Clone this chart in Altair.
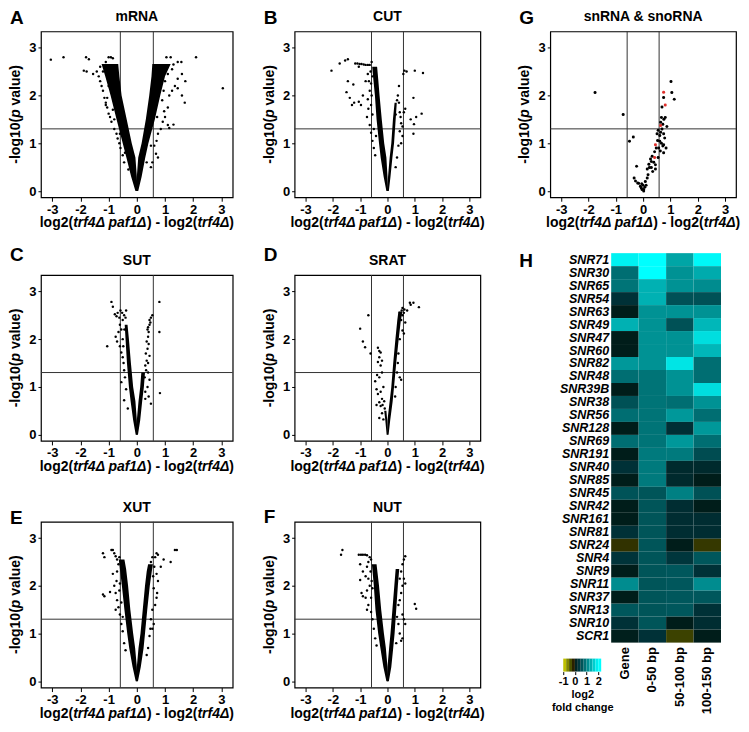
import altair as alt
import pandas as pd

FONT = "Liberation Sans"

XTICKS = [-3, -2, -1, 0, 1, 2, 3]
YTICKS = [0, 1, 2, 3]
FC_CUT = [-0.585, 0.585]
P_CUT = [1.301]
XSEG = [("log2(", False), ("trf4Δ paf1Δ", True), (") - log2(", False), ("trf4Δ", True), (")", False)]
YSEG = [("-log10(", False), ("p", True), (" ", False), ("value)", False)]

# dense cores of each volcano arm: (y, x_from, x_to)
A_LEFT = [(0.0, -0.05, 0.02), (0.3, -0.2, 0.0), (0.7, -0.37, -0.05), (1.0, -0.5, -0.18), (1.5, -0.72, -0.36), (2.0, -0.93, -0.54), (2.4, -1.12, -0.62), (2.66, -1.25, -0.66)]
A_RIGHT = [(0.0, -0.02, 0.05), (0.3, 0.0, 0.17), (0.7, 0.05, 0.3), (1.0, 0.17, 0.41), (1.5, 0.32, 0.64), (2.0, 0.44, 0.83), (2.4, 0.52, 1.0), (2.66, 0.55, 1.2)]
A_PTS = [(-3.05, 2.75), (-2.6, 2.8), (-1.8, 2.8), (-1.7, 2.76), (-1.78, 2.5), (-1.88, 2.52), (-1.55, 2.45), (-1.42, 2.5), (-1.35, 2.4), (-1.3, 2.3), (-1.25, 2.2), (-1.2, 2.1), (-1.15, 1.95), (-1.1, 1.85), (-1.05, 1.75), (-1.0, 1.62), (-0.95, 1.55), (-0.9, 1.45), (-1.0, 2.8), (-0.92, 2.8), (-0.85, 2.78), (-1.1, 2.7), (-0.8, 1.3), (-0.72, 1.2), (-0.68, 1.1), (-0.62, 1.0), (-0.58, 0.9), (-0.5, 0.75), (-0.45, 0.6), (-1.1, 1.8), (-1.05, 1.95), (-0.85, 1.7), (-1.3, 2.6), (-1.2, 2.5), (-1.0, 2.2), (-0.8, 1.5), (-0.6, 1.2), (-0.42, 0.8), (-0.3, 0.45),
         (3.05, 2.15), (2.1, 2.8), (1.58, 2.7), (1.45, 2.7), (1.3, 2.65), (1.2, 2.8), (1.05, 2.8), (1.6, 2.45), (1.72, 2.3), (1.45, 2.35), (1.35, 2.2), (1.45, 2.15), (1.25, 2.1), (1.15, 2.0), (1.7, 1.85), (1.6, 2.0), (0.97, 1.67), (1.1, 1.75), (1.0, 1.55), (0.92, 1.45), (1.1, 1.38), (1.3, 1.39), (1.15, 1.32), (0.85, 1.3), (0.75, 1.2), (0.7, 1.05), (0.62, 0.95), (0.68, 0.78), (0.75, 0.7), (0.55, 0.6), (0.5, 0.5), (0.9, 1.9), (0.95, 2.1), (1.0, 2.3), (1.1, 2.45), (0.9, 2.55), (1.25, 2.55), (0.72, 1.55), (0.5, 0.95), (0.35, 0.6)]

B_LEFT = [(0.0, -0.04, 0.02), (0.3, -0.14, 0.0), (0.7, -0.25, -0.04), (1.0, -0.31, -0.12), (1.5, -0.4, -0.21), (2.0, -0.46, -0.29), (2.35, -0.52, -0.34), (2.6, -0.56, -0.38)]
B_RIGHT = [(0.0, -0.01, 0.05), (0.3, 0.02, 0.11), (0.7, 0.08, 0.18), (1.0, 0.14, 0.24), (1.5, 0.2, 0.3), (1.85, 0.26, 0.34)]
B_PTS = [(-2.05, 2.52), (-1.75, 2.67), (-1.55, 2.73), (-1.45, 2.76), (-1.45, 2.3), (-1.5, 2.07), (-1.25, 2.23), (-1.18, 2.67), (-1.1, 2.67), (-1.02, 2.66), (-0.95, 2.66), (-0.87, 2.65), (-0.8, 2.64), (-0.72, 2.64), (-0.65, 2.64), (-1.05, 2.6), (-1.22, 1.85), (-1.3, 1.8), (-1.05, 1.87), (-0.97, 1.8), (-0.9, 2.0), (-0.8, 2.3), (-0.72, 2.45), (-1.38, 1.95), (-0.75, 1.55), (-0.7, 1.72), (-0.65, 1.38), (-0.6, 1.22), (-0.55, 1.05), (-0.5, 0.9), (-0.45, 0.75), (-0.65, 2.1), (-0.72, 1.92), (-0.6, 1.8), (-0.58, 2.0), (-0.6, 2.25), (-0.55, 1.6), (-0.5, 1.3), (-0.42, 1.15), (-0.62, 2.5), (-0.55, 2.4), (-0.68, 2.3), (-0.58, 2.7),
         (0.62, 2.52), (0.58, 2.45), (0.7, 2.5), (1.0, 2.52), (1.3, 2.47), (0.95, 1.95), (1.25, 1.62), (1.05, 1.55), (0.85, 1.5), (0.97, 1.4), (0.95, 1.2), (0.65, 1.72), (0.6, 1.65), (0.5, 1.42), (0.45, 1.25), (0.45, 1.65), (0.42, 1.85), (0.38, 2.0), (0.42, 2.2), (0.55, 1.35), (0.5, 1.0), (0.4, 0.95), (0.35, 0.7), (0.3, 0.5), (0.48, 1.55), (0.55, 1.15), (0.35, 1.9), (0.3, 1.6)]

C_LEFT = [(0.0, -0.04, 0.02), (0.3, -0.13, 0.0), (0.7, -0.22, -0.05), (1.0, -0.28, -0.13), (1.5, -0.35, -0.21), (2.0, -0.4, -0.28), (2.3, -0.43, -0.33)]
C_RIGHT = [(0.0, -0.02, 0.04), (0.3, 0.0, 0.12), (0.7, 0.06, 0.19), (1.0, 0.12, 0.25), (1.3, 0.16, 0.29)]
C_PTS = [(-0.9, 2.78), (-0.85, 2.68), (-0.78, 2.52), (-0.72, 2.48), (-0.68, 2.55), (-0.62, 2.45), (-0.58, 2.6), (-0.52, 2.55), (-0.5, 2.4), (-0.6, 2.3), (-0.55, 2.2), (-0.65, 2.15), (-0.75, 2.05), (-1.05, 1.85), (-0.7, 1.95), (-0.6, 1.85), (-0.55, 1.72), (-0.5, 1.62), (-0.47, 1.5), (-0.45, 1.35), (-0.42, 1.2), (-0.38, 0.95), (-0.55, 1.1), (-0.45, 0.72), (-0.32, 0.55), (-0.5, 2.0), (-0.48, 1.85), (-0.45, 2.5), (-0.4, 2.45), (-0.38, 2.6), (-0.44, 2.2),
         (0.3, 1.45), (0.35, 1.55), (0.32, 1.7), (0.38, 1.8), (0.35, 1.95), (0.4, 2.05), (0.42, 2.15), (0.4, 2.25), (0.45, 2.3), (0.48, 2.35), (0.5, 2.45), (0.55, 2.5), (0.45, 2.4), (0.38, 2.2), (0.42, 1.9), (0.45, 1.65), (0.4, 1.5), (0.33, 1.35), (0.4, 1.3), (0.45, 1.15), (0.38, 1.0), (0.42, 0.8), (0.3, 0.9), (0.5, 0.65), (0.8, 2.78), (0.8, 2.15), (0.82, 0.87), (0.28, 1.2), (0.3, 0.75)]

D_LEFT = [(0.0, -0.03, 0.0), (0.3, -0.08, -0.01), (0.5, -0.12, -0.04)]
D_RIGHT = [(0.0, -0.02, 0.04), (0.3, 0.0, 0.1), (0.7, 0.08, 0.19), (1.0, 0.14, 0.24), (1.5, 0.21, 0.32), (2.0, 0.29, 0.41), (2.4, 0.36, 0.49), (2.58, 0.4, 0.55)]
D_PTS = [(-1.0, 2.22), (-0.7, 2.5), (-0.9, 1.95), (-0.82, 1.83), (-0.62, 1.7), (-0.35, 1.82), (-0.3, 1.75), (-0.25, 1.72), (-0.3, 1.62), (-0.35, 1.52), (-0.2, 1.55), (-0.25, 1.45), (-0.38, 1.25), (-0.3, 1.2), (-0.2, 1.3), (-0.45, 1.12), (-0.4, 0.95), (-0.35, 0.85), (-0.25, 0.9), (-0.15, 1.0), (-0.2, 0.75), (-0.3, 0.68), (-0.4, 0.62), (-0.25, 0.6), (-0.2, 0.45), (-0.15, 0.32), (-0.3, 0.35), (-0.18, 0.62), (-0.12, 0.7), (-0.1, 0.55),
         (0.55, 2.65), (0.62, 2.62), (0.72, 2.6), (0.85, 2.72), (0.95, 2.76), (0.82, 2.76), (1.15, 2.67), (0.6, 2.55), (0.65, 2.35), (0.55, 2.18), (0.6, 2.12), (0.45, 1.2), (0.5, 1.15), (0.5, 2.4), (0.55, 2.5), (0.45, 2.0), (0.4, 1.7), (0.38, 1.5), (0.35, 1.3), (0.3, 1.0), (0.28, 0.8), (0.52, 2.6), (0.45, 2.55)]

E_LEFT = [(0.0, -0.04, 0.02), (0.3, -0.15, 0.0), (0.7, -0.27, -0.06), (1.0, -0.34, -0.13), (1.5, -0.44, -0.23), (2.0, -0.53, -0.31), (2.35, -0.6, -0.38), (2.55, -0.64, -0.44)]
E_RIGHT = [(0.0, -0.02, 0.04), (0.3, 0.0, 0.14), (0.7, 0.06, 0.24), (1.0, 0.13, 0.29), (1.5, 0.21, 0.37), (2.0, 0.29, 0.46), (2.3, 0.35, 0.53), (2.45, 0.4, 0.57)]
E_PTS = [(-1.2, 2.68), (-1.15, 2.6), (-0.9, 2.75), (-0.85, 2.75), (-0.8, 2.68), (-0.75, 2.62), (-1.2, 1.82), (-1.15, 1.78), (-0.95, 1.87), (-0.8, 2.0), (-0.75, 1.85), (-0.7, 1.7), (-0.75, 1.5), (-0.65, 1.55), (-0.6, 1.4), (-0.55, 1.2), (-0.5, 1.05), (-0.45, 0.8), (-0.85, 2.25), (-0.7, 2.3), (-0.65, 2.45), (-0.72, 2.1), (-0.62, 1.9), (-0.6, 2.05), (-0.55, 1.65), (-0.5, 1.35), (-0.4, 0.65), (-0.7, 2.55), (-0.62, 2.6),
         (1.35, 2.75), (1.42, 2.75), (1.2, 2.5), (0.95, 2.55), (0.75, 2.65), (0.7, 2.68), (0.65, 2.6), (0.85, 2.4), (0.7, 2.25), (0.75, 2.1), (0.72, 1.85), (0.7, 1.75), (0.6, 1.95), (0.55, 1.5), (0.5, 1.3), (0.48, 1.1), (0.45, 0.95), (0.4, 0.7), (0.6, 1.2), (0.55, 1.1), (0.62, 2.4), (0.58, 2.2), (0.65, 1.6), (0.35, 0.55), (0.5, 2.5), (0.55, 2.6)]

F_LEFT = [(0.0, -0.04, 0.03), (0.3, -0.15, 0.0), (0.7, -0.26, -0.06), (1.0, -0.34, -0.13), (1.5, -0.44, -0.23), (2.0, -0.5, -0.31), (2.45, -0.57, -0.4)]
F_RIGHT = [(0.0, -0.02, 0.05), (0.3, 0.0, 0.14), (0.7, 0.06, 0.21), (1.0, 0.11, 0.26), (1.5, 0.18, 0.32), (2.0, 0.25, 0.38), (2.35, 0.3, 0.43)]
F_PTS = [(-1.65, 2.75), (-1.7, 2.65), (-1.05, 2.65), (-0.97, 2.65), (-0.9, 2.65), (-0.82, 2.65), (-0.75, 2.64), (-0.65, 2.6), (-0.7, 2.5), (-0.75, 2.4), (-1.0, 2.45), (-0.9, 2.3), (-1.0, 2.12), (-0.8, 2.2), (-0.7, 2.15), (-0.65, 2.0), (-0.75, 1.9), (-0.95, 1.85), (-0.9, 1.78), (-0.8, 1.75), (-0.7, 1.6), (-0.75, 1.5), (-0.6, 1.45), (-0.55, 1.3), (-0.5, 1.1), (-0.45, 0.9), (-0.4, 0.75), (-0.6, 1.75), (-0.62, 2.3), (-0.58, 2.1), (-0.55, 1.95), (-0.6, 2.55),
         (0.65, 2.62), (0.6, 2.55), (0.55, 2.45), (0.5, 2.3), (0.45, 2.15), (0.6, 2.15), (0.55, 2.0), (0.65, 2.05), (0.5, 1.85), (0.45, 1.7), (0.4, 1.6), (0.55, 1.4), (0.6, 1.3), (0.65, 1.2), (0.55, 0.9), (0.5, 0.85), (0.45, 1.0), (1.0, 1.62), (1.05, 1.52), (0.35, 1.35), (0.4, 1.2), (0.32, 0.8)]

G_PTS = [(-1.76, 2.06), (-0.73, 1.6), (-0.36, 1.13), (-0.5, 1.04), (-0.24, 0.52), (-0.33, 0.27), (-0.28, 0.21), (-0.2, 0.17), (-0.16, 0.16), (-0.1, 0.1), (-0.07, 0.07), (-0.04, 0.03), (0.02, 0.03), (0.06, 0.08), (0.11, 0.12), (0.02, 0.0), (0.15, 0.27), (0.18, 0.34), (0.21, 0.56), (0.27, 0.67), (0.3, 0.49), (0.33, 0.73), (0.39, 0.6), (0.45, 0.55), (0.42, 0.82), (0.48, 0.9), (0.53, 1.06), (0.61, 1.16), (0.64, 1.23), (0.69, 1.3), (0.72, 1.4), (0.76, 1.5), (0.81, 1.54), (0.67, 1.54), (0.69, 1.76), (0.75, 1.96), (0.64, 1.44), (0.55, 1.27), (0.51, 1.2), (0.75, 1.2), (0.79, 1.11), (0.84, 0.9), (0.75, 0.8), (0.72, 0.94), (0.87, 1.35), (0.57, 0.9), (0.63, 0.84), (0.55, 0.7), (0.3, 0.62), (0.23, 0.49), (0.15, 0.46), (0.35, 0.41), (0.45, 0.46), (1.02, 2.29), (1.05, 2.06), (1.14, 1.92), (0.61, 1.04), (0.67, 1.0), (0.75, 0.97), (-0.05, 0.15), (0.08, 0.2), (0.0, 0.12)]
G_RED = [(0.75, 2.07), (0.81, 1.8), (0.64, 1.37), (0.45, 0.97), (0.42, 0.7)]

# heatmap H
GENES = ["SNR71", "SNR30", "SNR65", "SNR54", "SNR63", "SNR49", "SNR47", "SNR60", "SNR82", "SNR48",
         "SNR39B", "SNR38", "SNR56", "SNR128", "SNR69", "SNR191", "SNR40", "SNR85", "SNR45", "SNR42",
         "SNR161", "SNR81", "SNR24", "SNR4", "SNR9", "SNR11", "SNR37", "SNR13", "SNR10", "SCR1"]
REGIONS = ["Gene", "0-50 bp", "50-100 bp", "100-150 bp"]
FC_GENE = [1.9, 0.85, 0.9, 0.3, 0.0, 1.4, 0.0, 0.0, 1.2, 0.85, 0.0, 0.6, 0.85, 0.0, 0.85, 0.0, 0.3, 0.0, 0.62, 0.0, 0.0, 0.3, -0.22, 0.33, 0.0, 1.1, 0.0, 0.65, 0.3, 0.02]
FC_0_50 = [2.05, 2.05, 1.4, 1.4, 1.15, 1.15, 1.15, 1.15, 1.15, 0.9, 0.9, 0.9, 0.9, 0.9, 0.9, 0.95, 0.95, 0.95, 0.63, 0.63, 0.63, 0.63, 0.63, 0.63, 0.63, 0.63, 0.63, 0.63, 0.63, 0.3]
FC_50_100 = [1.3, 1.15, 1.15, 0.6, 1.15, 0.6, 1.15, 1.15, 1.8, 1.15, 1.15, 0.85, 1.2, 0.28, 1.2, 0.95, 0.2, 0.2, 1.0, 0.25, 0.25, 0.25, 0.0, 0.35, 0.65, 0.65, 0.65, 0.65, 0.0, -0.3]
FC_100_150 = [1.95, 1.35, 1.1, 0.6, 1.15, 1.45, 1.75, 1.45, 0.85, 0.85, 1.75, 1.15, 0.85, 1.2, 0.85, 0.55, 0.2, 0.0, 0.6, 0.0, 0.25, 0.25, -0.25, 0.65, 0.3, 1.1, 0.65, 0.3, 0.25, 0.0]
LEGEND_TICKS = [-1, 0, 1, 2]
LEGEND_STOPS = [-1.0, -0.75, -0.5, -0.25, 0.0, 0.25, 0.5, 0.75, 1.0, 1.25, 1.5, 1.75, 2.0, 2.25]

# Arial/Liberation Sans Bold advance widths (em) for title layout
CW = {"l": .278, "o": .611, "g": .611, "2": .556, "(": .333, ")": .333, "t": .333, "r": .389, "f": .333,
      "4": .556, "Δ": .667, " ": .278, "p": .611, "a": .556, "1": .556, "-": .333, "0": .556, "v": .556,
      "u": .611, "e": .556}
TFS = 14


def tw(s):
    return sum(CW[c] for c in s) * TFS


XS = alt.Scale(domain=[-3.4, 3.4], nice=False, zero=False)
YS = alt.Scale(domain=[-0.13, 3.34], nice=False, zero=False)

XAX = alt.Axis(values=XTICKS, title=None, grid=False, domain=False, tickSize=4, tickColor="black",
               labelPadding=2, labelFontSize=13, labelFontWeight="bold", labelColor="black",
               labelFont=FONT, labelFlush=False, labelExpr="'' + datum.value")
YAX = alt.Axis(values=YTICKS, title=None, grid=False, domain=False, tickSize=3, tickColor="black",
               labelPadding=2, labelFontSize=13, labelFontWeight="bold", labelColor="black",
               labelFont=FONT, minExtent=5, labelExpr="'' + datum.value")
H_PLOT = 166


def txt(s, x, y, size=TFS, italic=False, angle=0, align="left", baseline="top"):
    return alt.Chart(pd.DataFrame({"t": [s]})).mark_text(
        align=align, baseline=baseline, angle=angle, fontSize=size, fontWeight="bold",
        fontStyle="italic" if italic else "normal", font=FONT, color="black").encode(
        x=alt.value(x), y=alt.value(y), text="t:N")


def volcano(title, letter, left, right, pts, width, letter_dy, red=None, psize=6):
    arms = pd.DataFrame([{"arm": "L", "y": y, "x1": a, "x2": b} for (y, a, b) in left] +
                        [{"arm": "R", "y": y, "x1": a, "x2": b} for (y, a, b) in right])
    pdf = pd.DataFrame(pts, columns=["x", "y"])
    X = lambda f: alt.X(f, scale=XS, axis=XAX)
    Y = lambda f: alt.Y(f, scale=YS, axis=YAX)
    layers = [
        alt.Chart(pd.DataFrame({"x": FC_CUT})).mark_rule(color="#333", strokeWidth=1).encode(x=X("x:Q")),
        alt.Chart(pd.DataFrame({"y": P_CUT})).mark_rule(color="#333", strokeWidth=1).encode(y=Y("y:Q")),
    ]
    if len(arms):
        layers.append(alt.Chart(arms).mark_area(orient="horizontal", color="black", interpolate="linear").encode(
            y=Y("y:Q"), x=alt.X("x1:Q", scale=XS, axis=XAX, stack=False), x2="x2:Q", detail="arm:N"))
    layers.append(alt.Chart(pdf).mark_circle(size=psize, color="black", opacity=1).encode(x=X("x:Q"), y=Y("y:Q")))
    if red:
        rdf = pd.DataFrame(red, columns=["x", "y"])
        layers.append(alt.Chart(rdf).mark_circle(size=psize, color="#e0302c", opacity=1).encode(x=X("x:Q"), y=Y("y:Q")))
    # panel letter and title
    layers.append(txt(letter, -31, letter_dy, size=19, baseline="middle"))
    layers.append(txt(title, width / 2, -14, align="center", baseline="middle"))
    # x axis title with italic gene names
    total = sum(tw(s) for s, _ in XSEG)
    cx = width / 2 - total / 2
    for s, it in XSEG:
        layers.append(txt(s, cx, H_PLOT + 19, italic=it))
        cx += tw(s)
    # y axis title with italic p
    total = sum(tw(s) for s, _ in YSEG)
    cy = H_PLOT / 2 + total / 2
    for s, it in YSEG:
        if s.strip():
            layers.append(txt(s, -25, cy, italic=it, angle=270, baseline="middle"))
        cy -= tw(s)
    return alt.layer(*layers).properties(width=width, height=H_PLOT)


A = volcano("mRNA", "A", A_LEFT, A_RIGHT, A_PTS, 192, -13)
B = volcano("CUT", "B", B_LEFT, B_RIGHT, B_PTS, 186, -13)
C = volcano("SUT", "C", C_LEFT, C_RIGHT, C_PTS, 192, -20)
D = volcano("SRAT", "D", D_LEFT, D_RIGHT, D_PTS, 186, -20)
E = volcano("XUT", "E", E_LEFT, E_RIGHT, E_PTS, 192, -4)
F = volcano("NUT", "F", F_LEFT, F_RIGHT, F_PTS, 186, -5)
G = volcano("snRNA & snoRNA", "G", [], [], G_PTS, 186, -13, red=G_RED, psize=9)

# heatmap: plot area starts where G's does; cells sit right of the row-label band
vals = [FC_GENE, FC_0_50, FC_50_100, FC_100_150]
heat_df = pd.DataFrame([{"gene": g, "region": r, "fc": vals[j][i]}
                        for i, g in enumerate(GENES) for j, r in enumerate(REGIONS)])
leg_df = pd.DataFrame({"lo": LEGEND_STOPS[:-1], "hi": LEGEND_STOPS[1:]})
leg_df["fc"] = (leg_df["lo"] + leg_df["hi"]) / 2
cscale = alt.Scale(domain=[-1, 0, 2], range=["#dede00", "#000000", "#00ffff"], clamp=True)
HEAT_H = 390
LABEL_BAND = 61
HEAT_W = LABEL_BAND + 110
GY = alt.Y("gene:N", sort=GENES, scale=alt.Scale(paddingInner=0, paddingOuter=0), axis=None)

rect = alt.Chart(heat_df).mark_rect().encode(
    x=alt.X("region:N", sort=REGIONS, scale=alt.Scale(range=[LABEL_BAND, HEAT_W], paddingInner=0, paddingOuter=0),
            axis=alt.Axis(title=None, orient="bottom", labelAngle=-90, ticks=False, domain=False, labelPadding=4,
                          labelFontSize=13, labelFontWeight="bold", labelFont=FONT, labelColor="black")),
    y=GY, color=alt.Color("fc:Q", scale=cscale, legend=None))
row_labels = alt.Chart(pd.DataFrame({"gene": GENES})).mark_text(
    align="right", baseline="middle", fontSize=12.5, fontWeight="bold", fontStyle="italic", font=FONT,
    color="black").encode(y=GY, x=alt.value(LABEL_BAND - 2), text="gene:N")
legend_rect = alt.Chart(leg_df).mark_rect().encode(
    x=alt.X("lo:Q", scale=alt.Scale(domain=[-1.0, 2.25], range=[13, 51], nice=False, zero=False),
            axis=alt.Axis(orient="bottom", offset=29, values=LEGEND_TICKS, grid=False, domain=False,
                          tickSize=3, tickColor="black", labelPadding=1, labelFontSize=11,
                          labelFontWeight="bold", labelFont=FONT, labelColor="black", labelFlush=False,
                          labelExpr="'' + datum.value",
                          title=["log2", "fold change"], titleFontSize=11, titleFontWeight="bold",
                          titleFont=FONT, titleColor="black", titlePadding=2)),
    x2="hi:Q", y=alt.value(HEAT_H + 16), y2=alt.value(HEAT_H + 29),
    color=alt.Color("fc:Q", scale=cscale, legend=None))
H = alt.layer(rect, row_labels, legend_rect, txt("H", -31, 8, size=19, baseline="middle")).resolve_scale(
    x="independent").properties(width=HEAT_W, height=HEAT_H, view=alt.ViewBackground(strokeWidth=0))

row1 = alt.hconcat(A, B, spacing=27)
row2 = alt.hconcat(C, D, spacing=27)
row3 = alt.hconcat(E, F, spacing=27)
left = alt.vconcat(alt.vconcat(row1, row2, spacing=14), row3, spacing=25)
right = alt.vconcat(G, H, spacing=21)

chart = alt.hconcat(left, right, spacing=32).properties(
    padding={"left": 0, "top": 0, "right": 0, "bottom": 0}
).configure(font=FONT).configure_view(stroke="black", strokeWidth=1.2)

chart.save("out.html", embed_options={"renderer": "svg", "actions": False})
